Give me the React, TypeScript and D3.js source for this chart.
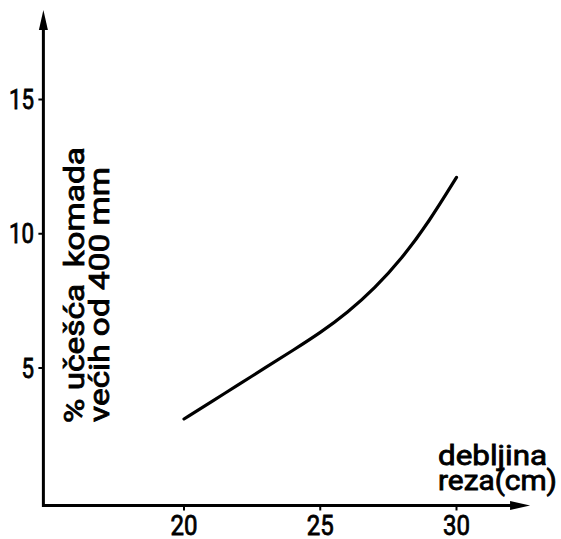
import React from "react";
import * as d3 from "d3";

// Cut thickness (cm) and share of pieces longer than 400 mm (%)
const thickness = [20, 21, 22, 23, 24, 25, 26, 27, 28, 29, 30];
const sharePct = [3.1, 3.74, 4.38, 5.02, 5.66, 6.31, 7.06, 7.97, 9.08, 10.46, 12.1];

const xTicks = [20, 25, 30];
const yTicks = [5, 10, 15];
const xTickLabels = ["20", "25", "30"];
const yTickLabels = ["5", "10", "15"];

const yTitle = ["% učešća  komada", "većih od 400 mm"];
const xTitle = ["debljina", "reza(cm)"];

// Axis extents in data units
const X_ORIGIN = 14.84;
const X_END = 32.7;
const Y_ORIGIN = -0.12;
const Y_END = 18.33;

const W = 561;
const H = 539;
const FONT = "'Liberation Sans Narrow', Roboto, 'DejaVu Sans', sans-serif";
const INK = "#000";

const textStyle = {
  fontFamily: FONT,
  fill: INK,
  stroke: INK,
  strokeWidth: 0.8,
  paintOrder: "stroke",
} as const;

export default function App() {
  const x = d3.scaleLinear().domain([20, 30]).range([184, 456.5]);
  const y = d3.scaleLinear().domain([5, 15]).range([368, 99.5]);

  const pts: [number, number][] = thickness.map((t, i) => [t, sharePct[i]]);
  const line = d3
    .line<[number, number]>()
    .x((d) => x(d[0]))
    .y((d) => y(d[1]))
    .curve(d3.curveBasis);

  const x0 = x(X_ORIGIN);
  const y0 = y(Y_ORIGIN);
  const xEnd = x(X_END);
  const yEnd = y(Y_END);

  return (
    <svg
      width={W}
      height={H}
      viewBox={`0 0 ${W} ${H}`}
      style={{ position: "absolute", left: 0, top: 0, background: "#fff" }}
    >
      <rect width={W} height={H} fill="#fff" />
      {/* axes */}
      <line x1={x0} y1={y0} x2={xEnd - 14} y2={y0} stroke={INK} strokeWidth={3} />
      <line x1={x0} y1={y0 + 1.5} x2={x0} y2={yEnd + 14} stroke={INK} strokeWidth={3} />
      <path
        d={`M${xEnd},${y0} L${xEnd - 20},${y0 - 4.5} L${xEnd - 20},${y0 + 4.5} Z`}
        fill={INK}
      />
      <path
        d={`M${x0},${yEnd} L${x0 - 4.5},${yEnd + 20} L${x0 + 4.5},${yEnd + 20} Z`}
        fill={INK}
      />

      {/* x ticks */}
      {xTicks.map((t, i) => (
        <g key={`xt${t}`}>
          <line x1={x(t)} y1={y0} x2={x(t)} y2={y0 + 5} stroke={INK} strokeWidth={2} />
          <text
            x={x(t)}
            y={535}
            textAnchor="middle"
            fontSize={28}
            textLength={xTickLabels[i].length * 13.5}
            lengthAdjust="spacingAndGlyphs"
            style={textStyle}
          >
            {xTickLabels[i]}
          </text>
        </g>
      ))}

      {/* y ticks */}
      {yTicks.map((t, i) => (
        <g key={`yt${t}`}>
          <line x1={x0 - 5} y1={y(t)} x2={x0} y2={y(t)} stroke={INK} strokeWidth={2} />
          <text
            x={34}
            y={y(t) + 9.5}
            textAnchor="end"
            fontSize={27}
            textLength={yTickLabels[i].length * 12.5}
            lengthAdjust="spacingAndGlyphs"
            style={textStyle}
          >
            {yTickLabels[i]}
          </text>
        </g>
      ))}

      {/* curve */}
      <path d={line(pts) ?? ""} fill="none" stroke={INK} strokeWidth={3.2} strokeLinecap="round" />

      {/* y title */}
      <text
        transform="translate(84,423) rotate(-90)"
        fontSize={27}
        textLength={276}
        lengthAdjust="spacingAndGlyphs"
        style={{ ...textStyle, whiteSpace: "pre" }}
      >
        {yTitle[0]}
      </text>
      <text
        transform="translate(109,422) rotate(-90)"
        fontSize={27}
        textLength={255}
        lengthAdjust="spacingAndGlyphs"
        style={{ ...textStyle, whiteSpace: "pre" }}
      >
        {yTitle[1]}
      </text>

      {/* x title */}
      <text
        x={438}
        y={465}
        fontSize={27}
        textLength={109}
        lengthAdjust="spacingAndGlyphs"
        style={textStyle}
      >
        {xTitle[0]}
      </text>
      <text
        x={438}
        y={490}
        fontSize={27}
        textLength={119}
        lengthAdjust="spacingAndGlyphs"
        style={textStyle}
      >
        {xTitle[1]}
      </text>
    </svg>
  );
}
